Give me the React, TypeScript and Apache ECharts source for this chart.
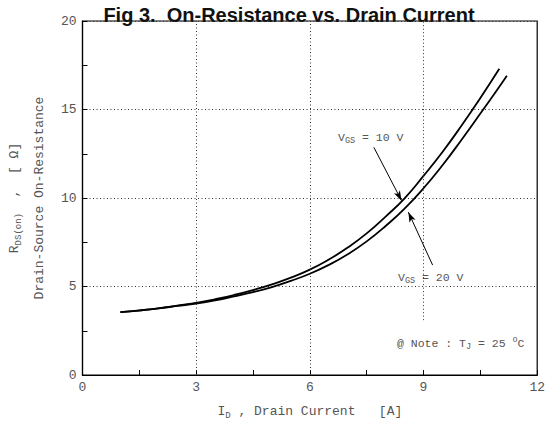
import React, { useEffect, useRef } from "react";
import * as echarts from "echarts";

// Drain current [A] and on-resistance [Ohm] for VGS = 10 V
const id10 = [1, 1.5, 2, 2.5, 3, 3.5, 4, 4.5, 5, 5.5, 6, 6.5, 7, 7.5, 8, 8.5, 9, 9.5, 10, 10.5, 11];
const r10 = [3.55, 3.65, 3.77, 3.92, 4.08, 4.28, 4.52, 4.8, 5.12, 5.5, 5.95, 6.52, 7.2, 8.0, 8.95, 9.98, 11.25, 12.6, 14.08, 15.65, 17.3];
// VGS = 20 V
const id20 = [1, 1.5, 2, 2.5, 3, 3.5, 4, 4.5, 5, 5.5, 6, 6.5, 7, 7.5, 8, 8.5, 9, 9.5, 10, 10.5, 11, 11.2];
const r20 = [3.55, 3.64, 3.76, 3.9, 4.04, 4.22, 4.44, 4.68, 4.97, 5.32, 5.72, 6.22, 6.82, 7.55, 8.42, 9.4, 10.55, 11.85, 13.28, 14.77, 16.28, 16.9];

const xTicks = [0, 3, 6, 9, 12];
const yTicks = [0, 5, 10, 15, 20];
// vertical dotted guide lines: [x, yStart]
const vGuides = [[3, 0], [6, 0], [9, 3.1]];
// arrows: [fromX, fromY, toX, toY]
const arrow10 = [7.69, 12.86, 8.42, 9.85];
const arrow20 = [9.24, 6.21, 8.6, 9.2];

const MONO = "'Liberation Mono', 'Courier New', monospace";
const GRAY = "#555";

export default function App() {
  const ref = useRef<HTMLDivElement>(null);
  useEffect(() => {
    if (!ref.current) return;
    const chart = echarts.init(ref.current, undefined, { renderer: "svg" });
    const dotted = { color: "#333", type: [1, 2.5] as any, width: 1 };
    const richM = {
      m: { fontFamily: MONO, fontSize: 13, color: GRAY, lineHeight: 18 },
      s: { fontFamily: MONO, fontSize: 9, color: GRAY, lineHeight: 10, verticalAlign: "bottom" },
      d: { fontFamily: MONO, fontSize: 13, color: GRAY, lineHeight: 32 },
    };
    const richA = {
      m: { fontFamily: MONO, fontSize: 11.5, fill: GRAY, lineHeight: 16 },
      s: { fontFamily: MONO, fontSize: 8.5, fill: GRAY, lineHeight: 9, verticalAlign: "bottom" },
      u: { fontFamily: MONO, fontSize: 8.5, fill: GRAY, lineHeight: 9, verticalAlign: "top" },
    };
    chart.setOption({
      animation: false,
      grid: { left: 75, right: 10, top: 21, bottom: 53, show: true, borderColor: "#000", borderWidth: 1.2, backgroundColor: "transparent" },
      xAxis: {
        type: "value",
        min: xTicks[0],
        max: xTicks[xTicks.length - 1],
        interval: 3,
        axisLine: { show: true, onZero: false, lineStyle: { color: "#000", width: 1.2 } },
        axisTick: { show: true, inside: true, length: 5, lineStyle: { color: "#000" } },
        minorTick: { show: true, splitNumber: 2, length: 5, lineStyle: { color: "#000" } },
        splitLine: { show: false },
        axisLabel: { fontFamily: MONO, fontSize: 13, color: GRAY, margin: 6 },
        name: "{m|I}{s|D}{m| , Drain Current   [A]}",
        nameLocation: "middle",
        nameGap: 27,
        nameTextStyle: { rich: richM },
      },
      yAxis: {
        type: "value",
        min: yTicks[0],
        max: yTicks[yTicks.length - 1],
        interval: 5,
        axisLine: { show: true, onZero: false, lineStyle: { color: "#000", width: 1.2 } },
        axisTick: { show: true, inside: true, length: 5, lineStyle: { color: "#000" } },
        minorTick: { show: true, splitNumber: 2, length: 5, lineStyle: { color: "#000" } },
        splitLine: { show: true, lineStyle: dotted },
        axisLabel: { fontFamily: MONO, fontSize: 13, color: GRAY, margin: 6 },
        name: "{m|R}{s|DS(on)}{m|  ,  [ Ω]}\n{d|Drain-Source On-Resistance}",
        nameLocation: "middle",
        nameRotate: 90,
        nameGap: 27,
        nameTextStyle: { rich: richM },
      },
      series: [
        {
          type: "line",
          name: "VGS = 10 V",
          data: id10.map((x, i) => [x, r10[i]]),
          smooth: true,
          showSymbol: false,
          lineStyle: { color: "#000", width: 1.8 },
          markLine: {
            silent: true,
            symbol: ["none", "none"],
            label: { show: false },
            lineStyle: dotted,
            data: vGuides.map(([x, y0]) => [{ coord: [x, y0] }, { coord: [x, yTicks[yTicks.length - 1]] }]),
          },
        },
        {
          type: "line",
          name: "VGS = 20 V",
          data: id20.map((x, i) => [x, r20[i]]),
          smooth: true,
          showSymbol: false,
          lineStyle: { color: "#000", width: 1.8 },
          markLine: {
            silent: true,
            symbol: ["none", "arrow"],
            symbolSize: [5, 10],
            label: { show: false },
            lineStyle: { color: "#000", width: 1, type: "solid" },
            data: [arrow10, arrow20].map((a) => [{ coord: [a[0], a[1]] }, { coord: [a[2], a[3]] }]),
          },
        },
      ],
      graphic: [
        {
          type: "text",
          x: 289,
          y: 15,
          style: {
            text: "Fig 3.  On-Resistance vs. Drain Current",
            font: "bold 20px 'Liberation Sans', Arial, sans-serif",
            fill: "#111",
            align: "center",
            verticalAlign: "middle",
          },
        },
        {
          type: "text",
          x: 338,
          y: 137,
          style: { text: "{m|V}{s|GS}{m| = 10 V}", rich: richA, verticalAlign: "middle" },
        },
        {
          type: "text",
          x: 398,
          y: 277,
          style: { text: "{m|V}{s|GS}{m| = 20 V}", rich: richA, verticalAlign: "middle" },
        },
        {
          type: "text",
          x: 397,
          y: 343,
          style: { text: "{m|@ Note : T}{s|J}{m| = 25 }{u|o}{m|C}", rich: richA, verticalAlign: "middle" },
        },
      ],
    });
    return () => chart.dispose();
  }, []);
  return (
    <div
      ref={ref}
      style={{ position: "fixed", left: 0, top: 0, width: 548, height: 428, background: "#fff" }}
    />
  );
}
